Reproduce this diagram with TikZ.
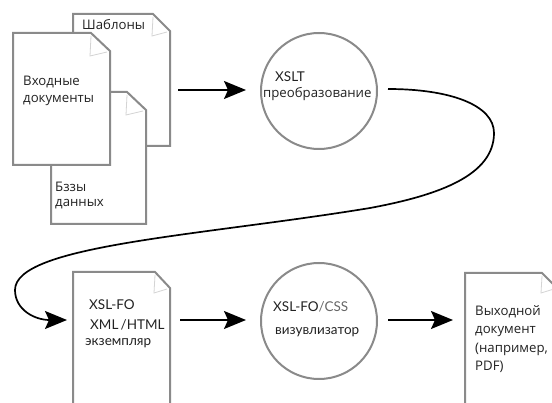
\documentclass[tikz,border=0pt]{standalone}
\usepackage{fontspec}
\setmainfont{Open Sans}
\newfontfamily\geofont{Lato}
\usetikzlibrary{arrows.meta}
\definecolor{docgray}{HTML}{8A8A8A}
\definecolor{curlgray}{HTML}{D4D4D4}
\definecolor{txtdark}{HTML}{222222}
\definecolor{txtlight}{HTML}{666666}
\newcommand\mydoc[6]{% left, top, foldx, right, foldy, bottom
  \draw[docline] (#1,#2) -- (#3,#2) -- (#4,#5) -- (#4,#6) -- (#1,#6) -- cycle;
  \draw[curl] (#3,#2+3) -- (#3-1,#5+5) -- (#4-3,#5+1);
}
\begin{document}
\begin{tikzpicture}[x=1pt,y=-1pt,
  docline/.style={draw=docgray, line width=2pt, fill=white, line join=miter},
  curl/.style={draw=curlgray, line width=0.8pt},
  circ/.style={circle, draw=docgray, line width=2pt, minimum size=116pt, inner sep=0pt},
  arr/.style={-{Stealth[length=22pt,width=18pt,inset=4pt]}, line width=1.7pt, black},
  lbl/.style={anchor=west, inner sep=0pt, font=\fontsize{13.2pt}{15pt}\selectfont, text=txtdark},
  glbl/.style={anchor=west, inner sep=0pt, font=\geofont\fontsize{13.5pt}{16pt}\selectfont, text=txtdark}]
\useasboundingbox (0,0) rectangle (552,403);
\clip (0,0) rectangle (552,403);

% documents (top row)
\mydoc{73}{14}{153}{170}{31}{146}
\mydoc{51}{92}{127}{146}{110}{224}
\mydoc{13}{33}{91}{110}{51}{165}
% documents (bottom row)
\mydoc{73}{272}{155}{170}{288}{420}
\mydoc{465}{273}{542}{557}{288}{420}

% circles
\node[circ] (c1) at (319,91) {};
\node[circ] (c2) at (319,321) {};

% labels
\node[lbl] (tTpl) at (82,25) {Шаблоны};
\node[lbl] (tIn1) at (23,82) {Входные};
\node[lbl] (tIn2) at (23,100) {документы};
\node[lbl] (tDb1) at (55,187) {Бззы};
\node[lbl] (tDb2) at (55,204) {данных};
\node[glbl] (tX1) at (275,77) {XSLT};
\node[lbl] (tX2) at (263,94) {преобразование};
\node[glbl] (tF1) at (89,305) {XSL-FO};
\node[glbl] (tF2) at (90,325) {XML\,/HTML};
\node[glbl] (tF3) at (85,343) {экземпляр};
\node[glbl] (tR1) at (273,307) {XSL-FO\textcolor{txtlight}{/CSS}};
\node[glbl] (tR2) at (275,332) {визувлизатор};
\node[lbl] (tO1) at (475,312) {Выходной};
\node[lbl] (tO2) at (475,331) {документ};
\node[lbl] (tO3) at (475,349) {(например,};
\node[lbl] (tO4) at (475,367) {PDF)};

% connector end points
\coordinate (a1s) at (178,90);
\coordinate (a2s) at (180,320);
\coordinate (a3s) at (388,320);
\coordinate (d2in) at (67,320);
\coordinate (d3in) at (453,320);
\coordinate (cs) at (388,89);

\draw[arr, shorten >=14pt] (a1s) -- (a1s -| c1.west);
\draw[arr, shorten >=14pt] (a2s) -- (a2s -| c2.west);
\draw[arr] (a3s) -- (d3in);
\draw[arr] (cs) .. controls (450,89) and (494,105) .. (494,133)
  .. controls (494,175) and (440,195) .. (370,208)
  .. controls (200,236) and (15,245) .. (15,290)
  .. controls (15,310) and (35,320) .. (d2in);
\end{tikzpicture}
\end{document}
